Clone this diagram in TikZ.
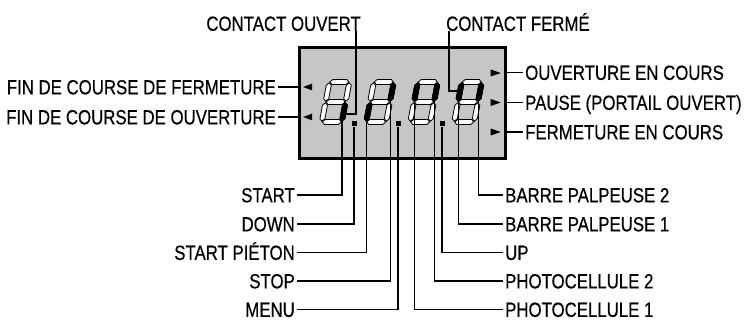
\documentclass[tikz,border=0pt]{standalone}
\usepackage{fontspec}
\setmainfont{Liberation Sans}[FakeStretch=0.82, FakeBold=0.5]
\usetikzlibrary{arrows.meta, positioning, calc}
\definecolor{lcdgray}{HTML}{C6C6C6}

\begin{document}
\begin{tikzpicture}[x=1pt, y=-1pt,
  every node/.style={font=\fontsize{20.5}{22}\selectfont},
  label/.style={text height=14.7pt, text depth=0pt, inner xsep=2pt, inner ysep=0pt},
  lead/.style={line width=1.1pt},
  segoff/.style={draw=black, fill=white, line width=0.8pt},
  segon/.style={draw=black, fill=black, line width=0.8pt},
  dot/.style={rectangle, fill=black, minimum size=5pt, inner sep=0pt},
]
\useasboundingbox (0,0) rectangle (748,320);

% Display
\node[draw, line width=2.6pt, fill=lcdgray, minimum width=206pt, minimum height=111pt, inner sep=0pt, anchor=north west] (lcd) at (298,46) {};

% Digits (all segments off)
\foreach \cx in {335.6, 380, 424, 468} {
  \begin{scope}[shift={(\cx,102)}, xslant=0.19]
    \foreach \sy in {-20, 0, 20}
      \path[segoff] (-9.5,\sy) -- ++(2.5,-2.5) -- ++(14,0) -- ++(2.5,2.5) -- ++(-2.5,2.5) -- ++(-14,0) -- cycle;
    \foreach \sx in {-10, 10} \foreach \sy in {-10, 10}
      \path[segoff] (\sx,\sy-9.2) -- ++(2.5,2.5) -- ++(0,13.4) -- ++(-2.5,2.5) -- ++(-2.5,-2.5) -- ++(0,-13.4) -- cycle;
  \end{scope}
}

% Segments on
\foreach \sn/\cx/\sx/\sy in {1c/335.6/10/10, 2b/380/10/-10, 2e/380/-10/10, 3b/424/10/-10, 3f/424/-10/-10, 4b/468/10/-10, 4f/468/-10/-10} {
  \begin{scope}[shift={(\cx,102)}, xslant=0.19]
    \path[segon] (\sx,\sy-9.2) -- ++(2.5,2.5) -- ++(0,13.4) -- ++(-2.5,2.5) -- ++(-2.5,-2.5) -- ++(0,-13.4) -- cycle;
    \coordinate (seg\sn) at (\sx,\sy+9.2);
  \end{scope}
}
\coordinate (ouvTip) at (345.8,114);
\coordinate (ferTip) at (457.2,91);

% Decimal points
\node[dot] (dp1) at (354,124) {};
\node[dot] (dp2) at (398,124) {};
\node[dot] (dp3) at (442,124) {};

% Status arrows
\foreach \ty [count=\i] in {87, 117} {
  \coordinate (tl\i) at (307.5,\ty);
  \fill (tl\i) +(-4.5,0) -- +(4.5,-3.3) -- +(4.5,3.3) -- cycle;
}
\foreach \ty [count=\i] in {73, 102.5, 132} {
  \coordinate (tr\i) at (495.7,\ty);
  \fill (tr\i) +(5,0) -- +(-5,-3.5) -- +(-5,3.5) -- cycle;
}

% Top labels
\node[label, anchor=south east] (cOuv) at (363,31) {CONTACT OUVERT};
\node[label, anchor=south west] (cFer) at (444,31) {CONTACT FERMÉ};
\draw[lead] (cOuv.south east) ++(-7,0) |- (ouvTip);
\draw[lead] (cFer.south west) ++(5,0) |- (ferTip);

% Side labels
\node[label, anchor=east] (finF) at (278,87) {FIN DE COURSE DE FERMETURE};
\node[label, anchor=east] (finO) at (278,117) {FIN DE COURSE DE OUVERTURE};
\node[label, anchor=west] (ouvC) at (523,72.5) {OUVERTURE EN COURS};
\node[label, anchor=west] (pause) at (523,102.5) {PAUSE (PORTAIL OUVERT)};
\node[label, anchor=west] (ferC) at (523,132) {FERMETURE EN COURS};
\draw[lead] (finF.east) -- (finF.east -| lcd.west);
\draw[lead] (finO.east) -- (finO.east -| lcd.west);
\draw[lead] (lcd.east |- ouvC.west) -- (ouvC.west);
\draw[lead] (lcd.east |- pause.west) -- (pause.west);
\draw[lead] (lcd.east |- ferC.west) -- (ferC.west);

% Bottom left labels
\node[label, anchor=east] (start) at (297,195) {START};
\node[label, anchor=east] (down) at (297,224) {DOWN};
\node[label, anchor=east] (pieton) at (297,252.5) {START PIÉTON};
\node[label, anchor=east] (stop) at (297,281) {STOP};
\node[label, anchor=east] (menu) at (297,309.5) {MENU};
\draw[lead] (start.east) -| (seg1c);
\draw[lead] (down.east) -| (dp1.south);
\draw[lead] (pieton.east) -| (seg2e);
\draw[lead] (stop.east) -| (seg2b);
\draw[lead] (menu.east) -| (dp2.south);

% Bottom right labels
\node[label, anchor=west] (bp2) at (503,195) {BARRE PALPEUSE 2};
\node[label, anchor=west] (bp1) at (503,224) {BARRE PALPEUSE 1};
\node[label, anchor=west] (up) at (503,252.5) {UP};
\node[label, anchor=west] (ph2) at (503,281) {PHOTOCELLULE 2};
\node[label, anchor=west] (ph1) at (503,309.5) {PHOTOCELLULE 1};
\draw[lead] (bp2.west) -| (seg4b);
\draw[lead] (bp1.west) -| (seg4f);
\draw[lead] (up.west) -| (dp3.south);
\draw[lead] (ph2.west) -| (seg3b);
\draw[lead] (ph1.west) -| (seg3f);

\end{tikzpicture}
\end{document}
